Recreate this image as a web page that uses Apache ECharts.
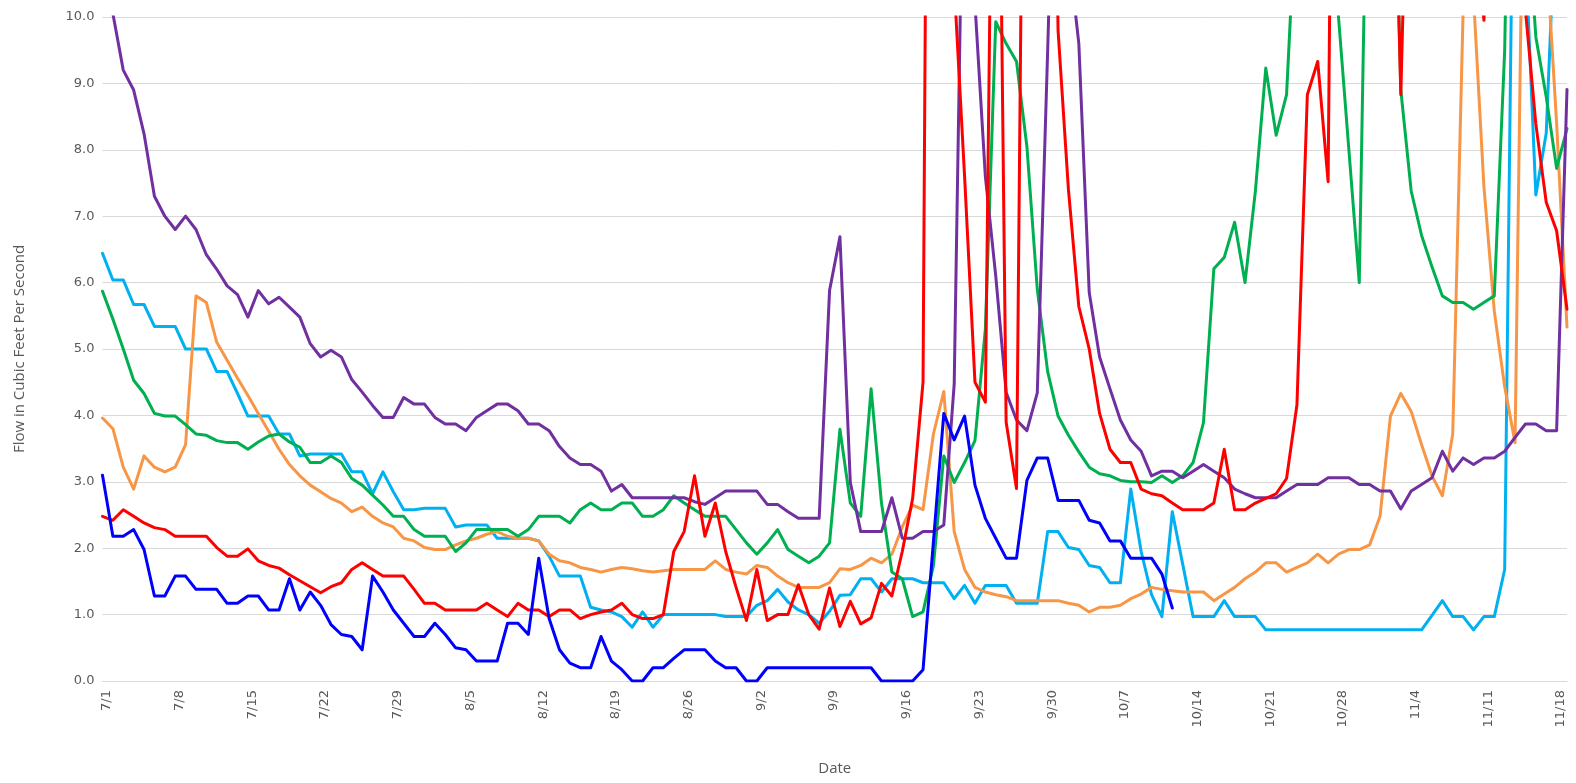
<!DOCTYPE html>
<html>
<head>
<meta charset="utf-8">
<script src="https://cdn.jsdelivr.net/npm/echarts@6/dist/echarts.min.js"></script>
<style>
html,body{margin:0;padding:0;background:#fff;}
#chart{width:1576px;height:783px;}
</style>
</head>
<body>
<div id="chart"></div>
<script>
// Category labels: daily dates 7/1 .. 11/19
var monthLengths = [[7, 31], [8, 31], [9, 30], [10, 31], [11, 19]];
var dates = [];
monthLengths.forEach(function (m) { for (var d = 1; d <= m[1]; d++) dates.push(m[0] + '/' + d); });

var purple = [11.0,10.05,9.2,8.9,8.24,7.3,7.0,6.8,7.0,6.8,
6.42,6.2,5.95,5.82,5.48,5.88,5.68,5.78,5.63,5.48,
5.08,4.88,4.98,4.88,4.54,4.35,4.15,3.97,3.97,4.27,
4.17,4.17,3.97,3.87,3.87,3.77,3.97,4.07,4.17,4.17,
4.07,3.87,3.87,3.77,3.53,3.36,3.26,3.26,3.16,2.86,
2.96,2.76,2.76,2.76,2.76,2.76,2.76,2.7,2.66,2.76,
2.86,2.86,2.86,2.86,2.66,2.66,2.55,2.45,2.45,2.45,
5.88,6.69,2.99,2.25,2.25,2.25,2.76,2.15,2.15,2.25,
2.25,2.35,4.47,14,10.2,7.6,6.1,4.35,3.93,3.77,
4.34,9.5,15,11,9.6,5.85,4.88,4.4,3.93,3.63,
3.46,3.09,3.16,3.16,3.06,3.16,3.26,3.16,3.06,2.89,
2.82,2.76,2.76,2.76,2.86,2.96,2.96,2.96,3.06,3.06,
3.06,2.96,2.96,2.86,2.86,2.59,2.86,2.96,3.06,3.46,
3.16,3.36,3.26,3.36,3.36,3.46,3.67,3.87,3.87,3.77,
3.77,8.91];

var red = [2.48,2.42,2.58,2.48,2.38,2.31,2.28,2.18,2.18,2.18,
2.18,2.01,1.88,1.88,1.99,1.81,1.74,1.7,1.6,1.51,
1.42,1.33,1.42,1.48,1.68,1.78,1.68,1.58,1.58,1.58,
1.38,1.17,1.17,1.07,1.07,1.07,1.07,1.17,1.07,0.97,
1.17,1.07,1.07,0.97,1.07,1.07,0.94,1.0,1.04,1.07,
1.17,1.0,0.94,0.94,1.0,1.95,2.25,3.09,2.18,2.68,
1.95,1.41,0.91,1.68,0.91,1.0,1.0,1.45,1.0,0.78,
1.4,0.82,1.2,0.86,0.95,1.47,1.28,1.95,2.75,4.5,
30,25,10.5,7.6,4.5,4.2,18,3.9,2.9,20,
25,20,9.8,7.4,5.64,5.0,4.03,3.49,3.29,3.29,
2.89,2.82,2.79,2.68,2.58,2.58,2.58,2.68,3.49,2.58,
2.58,2.68,2.75,2.82,3.05,4.16,8.83,9.33,7.52,25,
30,28,25,20,15,8.83,15,20,25,22,
18,15,12,9.95,14,18,14,10.1,8.39,7.21,
6.78,5.6];

var blue = [3.1,2.18,2.18,2.28,1.98,1.28,1.28,1.58,1.58,1.38,
1.38,1.38,1.17,1.17,1.28,1.28,1.07,1.07,1.54,1.07,
1.34,1.14,0.85,0.7,0.67,0.47,1.58,1.34,1.07,0.87,
0.67,0.67,0.87,0.7,0.5,0.47,0.3,0.3,0.3,0.87,
0.87,0.7,1.85,0.94,0.47,0.27,0.2,0.2,0.67,0.3,
0.17,0,0,0.2,0.2,0.34,0.47,0.47,0.47,0.3,
0.2,0.2,0,0,0.2,0.2,0.2,0.2,0.2,0.2,
0.2,0.2,0.2,0.2,0.2,0,0,0,0,0.17,
2.1,4.03,3.63,3.99,2.95,2.45,2.15,1.85,1.85,3.02,
3.36,3.36,2.72,2.72,2.72,2.42,2.38,2.11,2.11,1.85,
1.85,1.85,1.61,1.1];

var green = [5.87,5.45,5.0,4.53,4.33,4.03,3.99,3.99,3.86,3.72,
3.7,3.62,3.59,3.59,3.49,3.6,3.69,3.72,3.6,3.52,
3.29,3.29,3.39,3.29,3.05,2.95,2.8,2.65,2.48,2.48,
2.28,2.18,2.18,2.18,1.95,2.08,2.28,2.28,2.28,2.28,
2.18,2.28,2.48,2.48,2.48,2.38,2.58,2.68,2.58,2.58,
2.68,2.68,2.48,2.48,2.58,2.79,2.68,2.58,2.48,2.48,
2.48,2.28,2.08,1.91,2.08,2.28,1.98,1.88,1.78,1.88,
2.08,3.79,2.68,2.48,4.4,2.68,1.64,1.54,0.97,1.04,
1.74,3.39,2.99,3.29,3.62,5.3,9.93,9.6,9.33,8.05,
5.9,4.66,3.99,3.7,3.45,3.22,3.12,3.09,3.02,3.0,
3.0,2.99,3.09,2.99,3.09,3.29,3.89,6.21,6.38,6.91,
6.0,7.38,9.23,8.22,8.83,12,15,18,14,10.0,
8.0,6.0,15,20,15,8.9,7.38,6.71,6.24,5.8,
5.7,5.7,5.6,5.7,5.8,9.5,18,12,9.7,8.8,
7.72,8.32];

var cyan = [6.44,6.04,6.04,5.67,5.67,5.34,5.34,5.34,5.0,5.0,
5.0,4.66,4.66,4.33,3.99,3.99,3.99,3.72,3.72,3.39,
3.42,3.42,3.42,3.42,3.15,3.15,2.82,3.15,2.85,2.58,
2.58,2.6,2.6,2.6,2.32,2.35,2.35,2.35,2.15,2.15,
2.15,2.15,2.11,1.88,1.58,1.58,1.58,1.11,1.07,1.04,
0.97,0.81,1.04,0.81,1.0,1.0,1.0,1.0,1.0,1.0,
0.97,0.97,0.97,1.14,1.21,1.38,1.19,1.07,1.0,0.87,
1.05,1.29,1.3,1.54,1.54,1.34,1.54,1.54,1.54,1.48,
1.48,1.48,1.24,1.44,1.17,1.44,1.44,1.44,1.17,1.17,
1.17,2.25,2.25,2.01,1.98,1.74,1.71,1.48,1.48,2.89,
1.95,1.3,0.97,2.55,1.76,0.97,0.97,0.97,1.21,0.97,
0.97,0.97,0.77,0.77,0.77,0.77,0.77,0.77,0.77,0.77,
0.77,0.77,0.77,0.77,0.77,0.77,0.77,0.77,0.99,1.21,
0.97,0.97,0.77,0.97,0.97,1.68,15,11,7.32,8.25,
12,14];

var orange = [3.96,3.8,3.22,2.89,3.39,3.22,3.15,3.22,3.56,5.8,
5.7,5.1,4.83,4.56,4.3,4.03,3.76,3.49,3.26,3.09,
2.95,2.85,2.75,2.68,2.55,2.62,2.48,2.38,2.32,2.15,
2.11,2.01,1.98,1.98,2.05,2.11,2.15,2.21,2.25,2.18,
2.15,2.15,2.11,1.91,1.81,1.78,1.71,1.68,1.64,1.68,
1.71,1.69,1.66,1.64,1.66,1.68,1.68,1.68,1.68,1.81,
1.68,1.64,1.61,1.74,1.71,1.58,1.48,1.41,1.41,1.41,
1.48,1.69,1.68,1.74,1.85,1.78,1.91,2.32,2.65,2.58,
3.72,4.36,2.25,1.68,1.41,1.34,1.3,1.27,1.21,1.21,
1.21,1.21,1.21,1.17,1.14,1.04,1.11,1.11,1.14,1.24,
1.31,1.41,1.38,1.36,1.34,1.34,1.34,1.21,1.31,1.41,
1.54,1.64,1.78,1.78,1.64,1.71,1.78,1.91,1.78,1.91,
1.98,1.98,2.05,2.48,3.99,4.33,4.06,3.56,3.09,2.79,
3.72,10.1,10.3,7.45,5.57,4.43,3.59,15,14,11,
8.4,5.33];

var yTicks = [0,1,2,3,4,5,6,7,8,9,10];

var chart = echarts.init(document.getElementById('chart'), null, {renderer: 'canvas'});

function mk(name, data, color) {
  return {
    name: name, type: 'line', data: data, symbol: 'none', clip: true,
    lineStyle: {color: color, width: 3, join: 'round', cap: 'round'},
    itemStyle: {color: color}, animation: false
  };
}

chart.setOption({
  animation: false,
  backgroundColor: '#ffffff',
  grid: {left: 102.5, right: 9, top: 17, bottom: 102, containLabel: false},
  xAxis: {
    type: 'category', data: dates, boundaryGap: false,
    axisLine: {show: true, lineStyle: {color: '#d9d9d9', width: 1}},
    axisTick: {show: false},
    axisLabel: {interval: 6, rotate: 90, color: '#595959', fontSize: 13, margin: 9,
      verticalAlign: 'top', lineHeight: 9, fontFamily: 'DejaVu Sans'},
    name: 'Date', nameLocation: 'middle', nameGap: 80,
    nameTextStyle: {color: '#595959', fontSize: 15, fontFamily: 'Open Sans'}
  },
  yAxis: {
    type: 'value', min: yTicks[0], max: yTicks[yTicks.length - 1], interval: 1,
    axisLine: {show: false}, axisTick: {show: false},
    splitLine: {lineStyle: {color: '#d9d9d9', width: 1}},
    axisLabel: {color: '#595959', fontSize: 13, margin: 8, fontFamily: 'DejaVu Sans',
      formatter: function (v) { return v.toFixed(1); }},
    name: 'Flow in Cubic Feet Per Second', nameLocation: 'middle', nameGap: 75,
    nameRotate: 90,
    nameTextStyle: {color: '#595959', fontSize: 15, fontFamily: 'Open Sans'}
  },
  series: [
    mk('Site A', cyan, '#00B0F0'),
    mk('Site B', orange, '#F79646'),
    mk('Site C', green, '#00B050'),
    mk('Site D', purple, '#7030A0'),
    mk('Site E', red, '#FF0000'),
    mk('Site F', blue, '#0000FF')
  ]
});
</script>
</body>
</html>
